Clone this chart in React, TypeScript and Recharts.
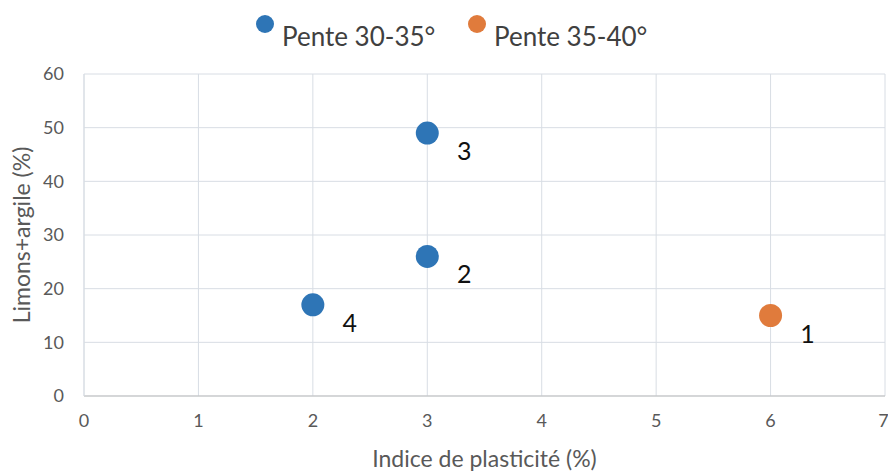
import { ScatterChart, Scatter, XAxis, YAxis, CartesianGrid } from "recharts";

// Pente 30-35° (bleu)
const plasticiteBleu = [2, 3, 3];
const limonsBleu = [17, 26, 49];
const numerosBleu = ["4", "2", "3"];

// Pente 35-40° (orange)
const plasticiteOrange = [6];
const limonsOrange = [15];
const numerosOrange = ["1"];

const ticksX = [0, 1, 2, 3, 4, 5, 6, 7];
const ticksY = [0, 10, 20, 30, 40, 50, 60];
const nomsSeries = ["Pente 30-35°", "Pente 35-40°"];

const BLEU = "#2e75b6";
const ORANGE = "#e07b3c";
const POLICE = "Lato, 'Open Sans', sans-serif";

const bleu = plasticiteBleu.map((x, i) => ({ x, y: limonsBleu[i], num: numerosBleu[i] }));
const orange = plasticiteOrange.map((x, i) => ({ x, y: limonsOrange[i], num: numerosOrange[i] }));

const point = (couleur: string) => (props: any) => {
  const { cx, cy, payload } = props;
  return (
    <g>
      <circle cx={cx} cy={cy} r={11.5} fill={couleur} />
      <text
        x={cx + 37}
        y={cy + 17}
        textAnchor="middle"
        dominantBaseline="central"
        fontSize={25}
        fill="#111"
        fontFamily={POLICE}
      >
        {payload.num}
      </text>
    </g>
  );
};

export default function App() {
  const couleurs = [BLEU, ORANGE];
  const legendeX = [256, 468];
  return (
    <div style={{ position: "absolute", left: 0, top: 0, width: 888, height: 471, background: "#fff", fontFamily: POLICE }}>
      {nomsSeries.map((nom, i) => (
        <div key={nom} style={{ position: "absolute", left: legendeX[i], top: 14 }}>
          <span style={{ position: "absolute", left: 0, top: 1, width: 18, height: 18, borderRadius: 9, background: couleurs[i] }} />
          <span style={{ position: "absolute", left: 26, top: 6, fontSize: 26, color: "#404040", whiteSpace: "nowrap", lineHeight: "32px" }}>{nom}</span>
        </div>
      ))}
      <ScatterChart width={888} height={471} margin={{ top: 74, right: 3, left: 0, bottom: 0 }}>
        <CartesianGrid stroke="#d8dde4" />
        <XAxis
          type="number"
          dataKey="x"
          domain={[0, 7]}
          ticks={ticksX}
          height={75}
          tickLine={false}
          tickSize={6}
          tickMargin={12}
          axisLine={{ stroke: "#bfbfbf" }}
          tick={{ fill: "#595959", fontSize: 18, fontFamily: POLICE }}
          label={{ value: "Indice de plasticité (%)", position: "insideBottom", offset: 4, fill: "#595959", fontSize: 23, fontFamily: POLICE }}
        />
        <YAxis
          type="number"
          dataKey="y"
          domain={[0, 60]}
          ticks={ticksY}
          width={84}
          tickLine={false}
          tickSize={6}
          tickMargin={14}
          axisLine={{ stroke: "#d8dde4" }}
          tick={{ fill: "#595959", fontSize: 18, fontFamily: POLICE }}
          label={{ value: "Limons+argile (%)", angle: -90, position: "insideLeft", offset: 22, style: { textAnchor: "middle" }, fill: "#595959", fontSize: 23, fontFamily: POLICE }}
        />
        <Scatter data={bleu} fill={BLEU} shape={point(BLEU)} isAnimationActive={false} />
        <Scatter data={orange} fill={ORANGE} shape={point(ORANGE)} isAnimationActive={false} />
      </ScatterChart>
    </div>
  );
}
